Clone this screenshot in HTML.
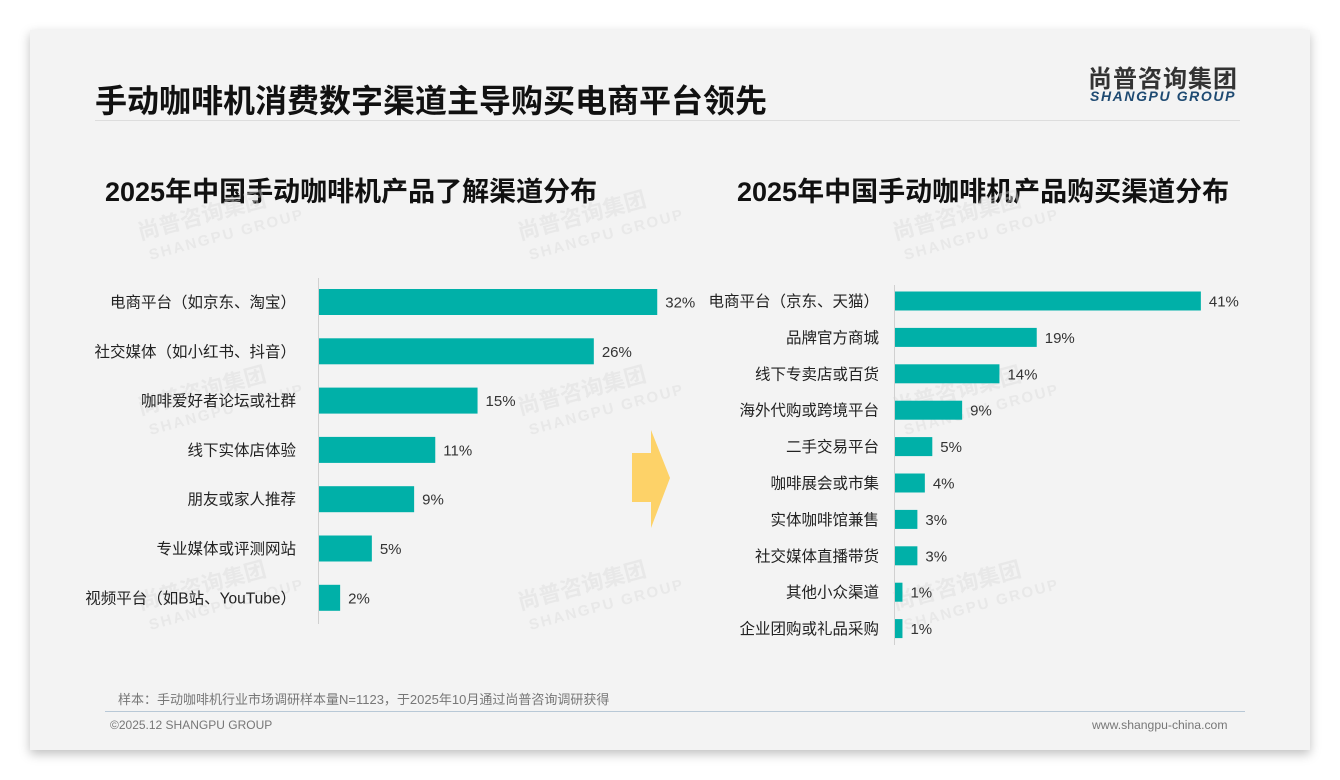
<!DOCTYPE html>
<html><head><meta charset="utf-8"><style>
body{margin:0;width:1340px;height:780px;background:#fff;font-family:"Liberation Sans","Noto Sans CJK SC",sans-serif;overflow:hidden}
.card{position:absolute;left:30px;top:30px;width:1280px;height:720px;background:#f3f3f3;box-shadow:0 4px 10px rgba(0,0,0,0.25)}
.t{position:absolute;white-space:nowrap}
</style></head><body>
<div class="card"></div>
<div class="t" style="left:95px;top:76px;font-size:32px;font-weight:bold;color:#111">手动咖啡机消费数字渠道主导购买电商平台领先</div>
<div class="t" style="left:1088px;top:59px;font-size:24px;font-weight:bold;color:#333;letter-spacing:1px">尚普咨询集团</div>
<div class="t" style="left:1090px;top:88px;font-size:14px;font-weight:bold;font-style:italic;color:#1e4a72;letter-spacing:1.6px">SHANGPU GROUP</div>
<div style="position:absolute;left:95px;top:120px;width:1145px;height:1px;background:#ddd"></div>
<div class="t" style="left:105px;top:170px;font-size:27px;font-weight:bold;color:#111">2025年中国手动咖啡机产品了解渠道分布</div>
<div class="t" style="left:737px;top:170px;font-size:27px;font-weight:bold;color:#111">2025年中国手动咖啡机产品购买渠道分布</div>
<svg id="chart" width="1340" height="780" style="position:absolute;left:0;top:0">
<g id="wm" fill="#dcdcdc" opacity="0.45" font-weight="bold"></g>
<polygon points="632,453 651,453 651,430 670,478 651,528 651,502 632,502" fill="#fdd268"/>
<g id="left"></g><g id="right"></g>
</svg>
<div class="t" style="left:118px;top:689px;font-size:13px;color:#777">样本：手动咖啡机行业市场调研样本量N=1123，于2025年10月通过尚普咨询调研获得</div>
<div style="position:absolute;left:105px;top:711px;width:1140px;height:1px;background:#b8c8d6"></div>
<div class="t" style="left:110px;top:718px;font-size:12px;color:#777">©2025.12 SHANGPU GROUP</div>
<div class="t" style="left:1092px;top:718px;font-size:12.2px;color:#777">www.shangpu-china.com</div>
<script>
const leftCats=["电商平台（如京东、淘宝）","社交媒体（如小红书、抖音）","咖啡爱好者论坛或社群","线下实体店体验","朋友或家人推荐","专业媒体或评测网站","视频平台（如B站、YouTube）"];
const leftVals=[32,26,15,11,9,5,2];
const rightCats=["电商平台（京东、天猫）","品牌官方商城","线下专卖店或百货","海外代购或跨境平台","二手交易平台","咖啡展会或市集","实体咖啡馆兼售","社交媒体直播带货","其他小众渠道","企业团购或礼品采购"];
const rightVals=[41,19,14,9,5,4,3,3,1,1];
const NS="http://www.w3.org/2000/svg";
function mk(tag,attrs,parent){const e=document.createElementNS(NS,tag);for(const k in attrs)e.setAttribute(k,attrs[k]);parent.appendChild(e);return e;}
function draw(g,cats,vals,x0,scale,y0,step,bh,axTop,axBot,name,gap){
  const ax=mk('line',{x1:x0-0.5,x2:x0-0.5,y1:axTop,y2:axBot,stroke:'#d0d0d0'},g);
  
  
  cats.forEach((c,i)=>{
    const cy=y0+i*step;
    const r=mk('rect',{x:x0,y:cy-bh/2,width:vals[i]*scale,height:bh,fill:'#00b0a8'},g);
    
    
    const l=mk('text',{x:x0-gap,y:cy+5.5,'text-anchor':'end','font-size':15.5,fill:'#222'},g);
    l.textContent=c;
    
    
    const v=mk('text',{x:x0+vals[i]*scale+8,y:cy+5.5,'font-size':15,fill:'#333'},g);
    v.textContent=vals[i]+'%';
    
    
  });
}
draw(document.getElementById('left'),leftCats,leftVals,319,10.57,302,49.3,26,278,624,'left',23);
draw(document.getElementById('right'),rightCats,rightVals,895,7.46,301,36.4,19,285,645,'right',16);
const wm=document.getElementById('wm');
[[140,240],[520,240],[895,240],[140,415],[520,415],[895,415],[140,610],[520,610],[895,610]].forEach(p=>{
  const t=mk('text',{x:p[0],y:p[1],'font-size':22,transform:`rotate(-15 ${p[0]} ${p[1]})`},wm);
  t.textContent='尚普咨询集团';
  
  
  const t2=mk('text',{x:p[0]+5,y:p[1]+22,'font-size':15,'letter-spacing':2,transform:`rotate(-15 ${p[0]} ${p[1]})`},wm);
  t2.textContent='SHANGPU GROUP';
  
  
});
</script>
</body></html>
